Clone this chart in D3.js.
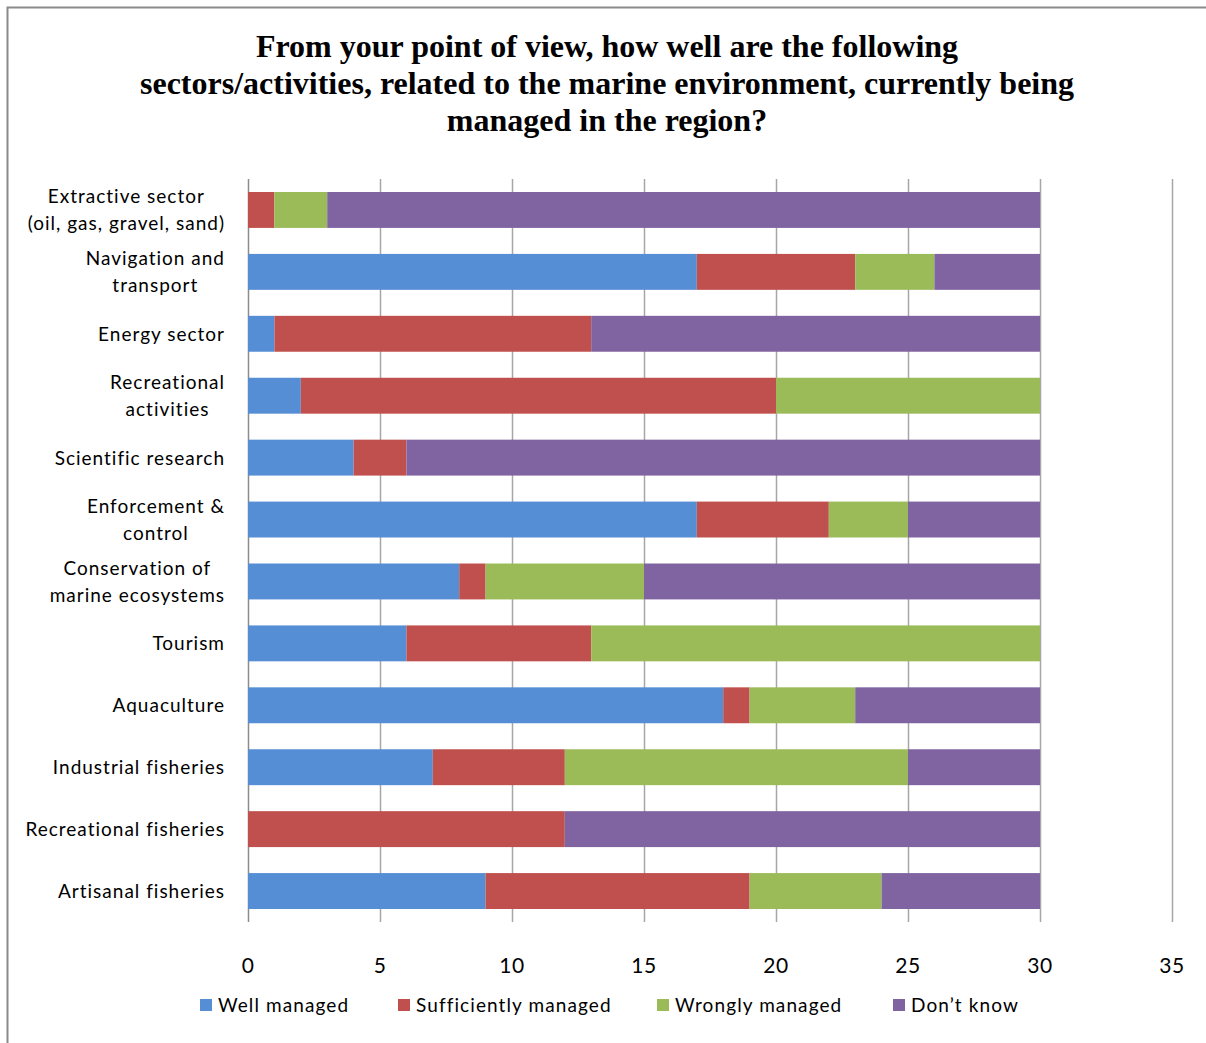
<!DOCTYPE html>
<html>
<head>
<meta charset="utf-8">
<script src="https://cdn.jsdelivr.net/npm/d3@7"></script>
<style>
  html, body { margin: 0; padding: 0; background: #fff; }
  svg { display: block; }
</style>
</head>
<body>
<svg id="chart" width="1206" height="1043"></svg>
<script>
// Categories, top to bottom (each entry is a list of wrapped lines)
const categories = [
  ["Extractive sector", "(oil, gas, gravel, sand)"],
  ["Navigation and", "transport"],
  ["Energy sector"],
  ["Recreational", "activities"],
  ["Scientific research"],
  ["Enforcement &", "control"],
  ["Conservation of", "marine ecosystems"],
  ["Tourism"],
  ["Aquaculture"],
  ["Industrial fisheries"],
  ["Recreational fisheries"],
  ["Artisanal fisheries"]
];

const seriesNames = ["Well managed", "Sufficiently managed", "Wrongly managed", "Don\u2019t know"];

// Responses per category, in the same order as categories
const wellManaged         = [0, 17, 1, 2, 4, 17, 8, 6, 18, 7, 0, 9];
const sufficientlyManaged = [1, 6, 12, 18, 2, 5, 1, 7, 1, 5, 12, 10];
const wronglyManaged      = [2, 3, 0, 10, 0, 3, 6, 17, 4, 13, 0, 5];
const dontKnow            = [27, 4, 17, 0, 24, 5, 15, 0, 7, 5, 18, 6];

const xTicks = [0, 5, 10, 15, 20, 25, 30, 35];

const titleLines = [
  "From your point of view, how well are the following",
  "sectors/activities, related to the marine environment, currently being",
  "managed in the region?"
];

const colors = ["#558ED5", "#C0504D", "#9BBB59", "#8064A2"];

const svg = d3.select("#chart");
const W = 1206, H = 1043;
const plot = { left: 248, right: 1172, top: 179, bottom: 922 };

// Frame around the chart area
svg.append("path")
  .attr("d", `M7.5,${H} L7.5,7.5 L${W},7.5`)
  .attr("fill", "none")
  .attr("stroke", "#8a8a8a")
  .attr("stroke-width", 2);

// Title
svg.append("text")
  .attr("text-anchor", "middle")
  .attr("font-family", "'Liberation Serif', 'Times New Roman', serif")
  .attr("font-weight", "bold")
  .attr("font-size", 32)
  .attr("fill", "#000")
  .selectAll("tspan")
  .data(titleLines)
  .join("tspan")
  .attr("x", 607)
  .attr("y", (d, i) => 57 + i * 37)
  .text(d => d);

// Scales
const x = d3.scaleLinear().domain([0, 35]).range([plot.left, plot.right]);
const y = d3.scaleBand()
  .domain(d3.range(categories.length))
  .range([plot.top, plot.bottom])
  .paddingInner(0.42)
  .paddingOuter(0.21);

// Vertical gridlines
svg.append("g")
  .selectAll("line")
  .data(xTicks)
  .join("line")
  .attr("x1", d => x(d) + 0.5)
  .attr("x2", d => x(d) + 0.5)
  .attr("y1", plot.top)
  .attr("y2", plot.bottom)
  .attr("stroke", d => d === 0 ? "#8c8c8c" : "#a6a6a6")
  .attr("stroke-width", 1.5);

// Stacked data
const rows = categories.map((c, i) => ({
  idx: i,
  s0: wellManaged[i],
  s1: sufficientlyManaged[i],
  s2: wronglyManaged[i],
  s3: dontKnow[i]
}));
const stack = d3.stack().keys(["s0", "s1", "s2", "s3"]);
const layers = stack(rows);

svg.append("g")
  .selectAll("g")
  .data(layers)
  .join("g")
  .attr("fill", (d, i) => colors[i])
  .selectAll("rect")
  .data(d => d.filter(p => p[1] > p[0]))
  .join("rect")
  .attr("x", d => x(d[0]))
  .attr("width", d => x(d[1]) - x(d[0]))
  .attr("y", d => y(d.data.idx))
  .attr("height", y.bandwidth());

// Category labels, wrapped lines centred on each other, block right-aligned
const labelFont = "'Lato', 'Open Sans', 'Liberation Sans', sans-serif";
const labelG = svg.append("g")
  .attr("font-family", labelFont)
  .attr("font-size", 19)
  .attr("letter-spacing", 1)
  .attr("fill", "#000");

categories.forEach((lines, i) => {
  const cy = y(i) + y.bandwidth() / 2;
  const lh = 27;
  const t = labelG.append("text").attr("text-anchor", "middle");
  const spans = t.selectAll("tspan")
    .data(lines)
    .join("tspan")
    .attr("y", (d, k) => cy + (k - (lines.length - 1) / 2) * lh + 7)
    .text(d => d);
  const maxW = d3.max(spans.nodes(), n => n.getComputedTextLength());
  spans.attr("x", 225 - maxW / 2);
});

// X axis tick labels
svg.append("g")
  .attr("font-family", labelFont)
  .attr("font-size", 21)
  .attr("letter-spacing", 0.5)
  .attr("fill", "#000")
  .selectAll("text")
  .data(xTicks)
  .join("text")
  .attr("x", d => x(d))
  .attr("y", 973)
  .attr("text-anchor", "middle")
  .text(d => d);

// Legend
const legendX = [200, 398, 657, 893];
const legend = svg.append("g")
  .attr("font-family", labelFont)
  .attr("font-size", 19)
  .attr("letter-spacing", 1.1)
  .attr("fill", "#000");
seriesNames.forEach((name, i) => {
  legend.append("rect")
    .attr("x", legendX[i])
    .attr("y", 999)
    .attr("width", 12)
    .attr("height", 12)
    .attr("fill", colors[i]);
  legend.append("text")
    .attr("x", legendX[i] + 18)
    .attr("y", 1012)
    .text(name);
});
</script>
</body>
</html>
